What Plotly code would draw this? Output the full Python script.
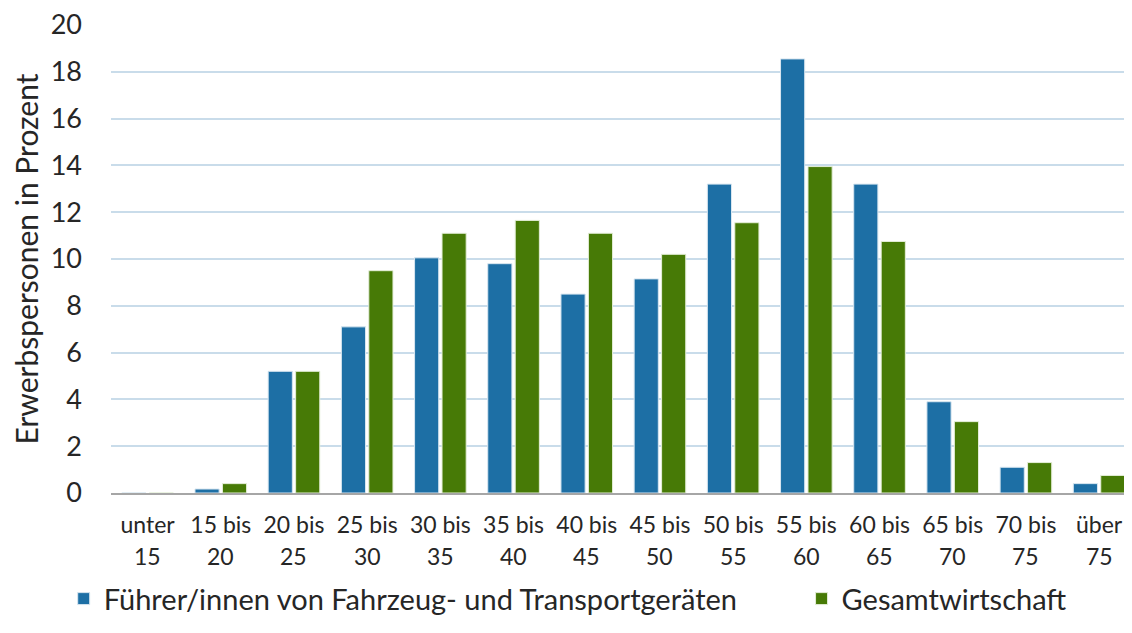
import plotly.graph_objects as go

line1 = ["unter", "15 bis", "20 bis", "25 bis", "30 bis", "35 bis", "40 bis",
         "45 bis", "50 bis", "55 bis", "60 bis", "65 bis", "70 bis", "über"]
line2 = ["15", "20", "25", "30", "35", "40", "45", "50", "55", "60", "65", "70", "75", "75"]
categories = [a + " " + b for a, b in zip(line1, line2)]

fuehrer = [0.0, 0.17, 5.2, 7.1, 10.05, 9.8, 8.5, 9.15, 13.2, 18.55, 13.2, 3.9, 1.1, 0.4]
gesamt = [0.0, 0.4, 5.2, 9.5, 11.1, 11.65, 11.1, 10.2, 11.55, 13.95, 10.75, 3.05, 1.3, 0.75]

name1 = "Führer/innen von Fahrzeug- und Transportgeräten"
name2 = "Gesamtwirtschaft"

FONT = "Lato"
TXT = "#262626"

fig = go.Figure()
fig.add_trace(go.Bar(x=categories, y=fuehrer, name=name1, legend="legend",
                     marker=dict(color="#1D6FA5", line=dict(color="#d8e6f0", width=1))))
fig.add_trace(go.Bar(x=categories, y=gesamt, name=name2, legend="legend2",
                     marker=dict(color="#477A06", line=dict(color="#e4eed8", width=1))))

for c, t in zip(categories, line2):
    fig.add_annotation(x=c, xref="x", y=0, yref="y", text=t, showarrow=False,
                       yshift=-63, font=dict(family=FONT, size=23, color=TXT))

legend_common = dict(orientation="h", yanchor="middle", y=-0.226,
                     font=dict(family=FONT, size=29, color=TXT), itemwidth=30,
                     bgcolor="rgba(0,0,0,0)")

fig.update_layout(
    width=1116, height=617,
    margin=dict(l=103, r=0, t=17, b=132, autoexpand=False),
    plot_bgcolor="white", paper_bgcolor="white",
    barmode="group", bargap=0.25, bargroupgap=0.12,
    font=dict(family=FONT, color=TXT),
    showlegend=True,
    legend=dict(x=-0.0467, xanchor="left", **legend_common),
    legend2=dict(x=0.6817, xanchor="left", **legend_common),
    xaxis=dict(tickvals=categories, ticktext=line1, showgrid=False, automargin=False,
               range=[-0.5, 13.34],
               showline=True, linecolor="#a6a6a6", linewidth=1.5,
               ticks="", tickfont=dict(family=FONT, size=23, color=TXT),
               ticklabelstandoff=11, ticklabeloverflow="allow"),
    yaxis=dict(range=[0, 20], dtick=2, showgrid=True, gridcolor="#c9dcea",
               gridwidth=1.5, zeroline=False, showline=False, automargin=False,
               tickfont=dict(family=FONT, size=27, color=TXT),
               ticklabelstandoff=28, ticklabeloverflow="allow",
               title=dict(text="Erwerbspersonen in Prozent", standoff=8,
                          font=dict(family=FONT, size=30, color=TXT))),
)

fig.write_html("out.html")
